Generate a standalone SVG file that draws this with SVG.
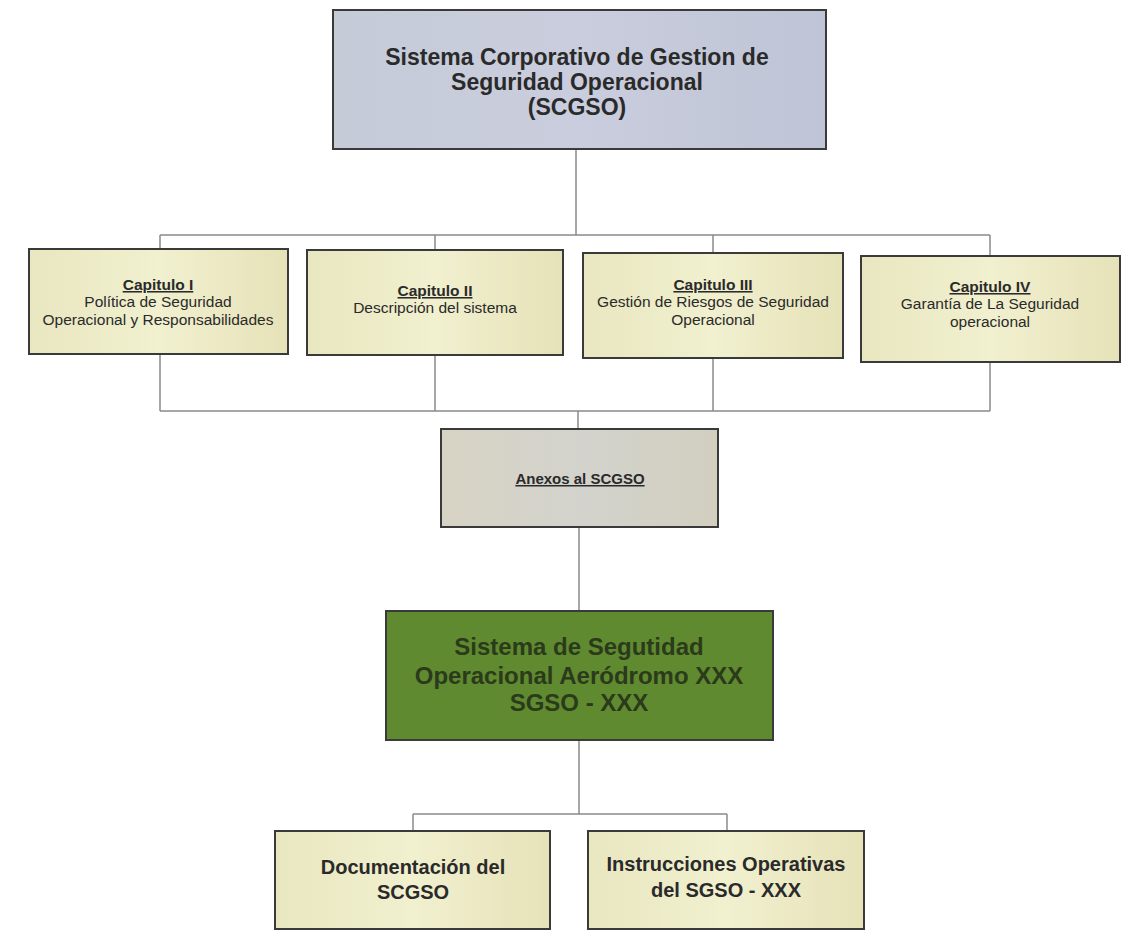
<svg xmlns="http://www.w3.org/2000/svg" width="1134" height="951" viewBox="0 0 1134 951">
<defs>
<linearGradient id="gBlue" x1="0" y1="0" x2="1" y2="0">
<stop offset="0" stop-color="#c6cbd8"/><stop offset="0.5" stop-color="#c9cddd"/><stop offset="1" stop-color="#bfc4d6"/>
</linearGradient>
<linearGradient id="gYel" x1="0" y1="0" x2="1" y2="0">
<stop offset="0" stop-color="#e9e7c0"/><stop offset="0.5" stop-color="#f1f0cf"/><stop offset="1" stop-color="#e6e2b8"/>
</linearGradient>
<linearGradient id="gAnx" x1="0" y1="0" x2="1" y2="0">
<stop offset="0" stop-color="#d7d3c4"/><stop offset="0.5" stop-color="#d3d3cd"/><stop offset="1" stop-color="#d2cfbf"/>
</linearGradient>
</defs>
<style>
.box{stroke:#3a3a3a;stroke-width:2}
.conn{fill:none;stroke:#8a8a8a;stroke-width:1.5}
text{font-family:"Liberation Sans",Arial,sans-serif;text-anchor:middle;fill:#2a2a2a}
.big{font-weight:bold;font-size:23px}
.cap{font-size:15.5px}
.capt{font-weight:bold;text-decoration:underline}
.anx{font-weight:bold;font-size:15px;text-decoration:underline}
.grn{font-weight:bold;font-size:24px;fill:#2c3a1c}
.bot{font-weight:bold;font-size:20px}
</style>
<rect width="1134" height="951" fill="#ffffff"/>
<g id="connectors">
<path class="conn" d="M576 149 V235 M160 235 H990 M160 235 V249 M435 235 V250 M713 235 V253 M990 235 V256"/>
<path class="conn" d="M160 354 V411 M435 355 V411 M713 358 V411 M990 362 V411 M160 411 H990 M578 411 V429"/>
<path class="conn" d="M579 527 V611"/>
<path class="conn" d="M579 740 V814 M413 814 H727 M413 814 V831 M727 814 V831"/>
</g>
<g id="node-scgso">
<rect class="box" x="333" y="10" width="493" height="139" fill="url(#gBlue)"/>
<text class="big" x="577" y="65">Sistema Corporativo de Gestion de</text>
<text class="big" x="577" y="90">Seguridad Operacional</text>
<text class="big" x="577" y="115">(SCGSO)</text>
</g>
<g id="node-cap1">
<rect class="box" x="29" y="249" width="259" height="105" fill="url(#gYel)"/>
<text class="cap" x="158" y="290"><tspan class="capt">Capitulo I</tspan></text>
<text class="cap" x="158" y="307">Política de Seguridad</text>
<text class="cap" x="158" y="325">Operacional y Responsabilidades</text>
</g>
<g id="node-cap2">
<rect class="box" x="307" y="250" width="256" height="105" fill="url(#gYel)"/>
<text class="cap" x="435" y="296"><tspan class="capt">Capitulo II</tspan></text>
<text class="cap" x="435" y="313">Descripción del sistema</text>
</g>
<g id="node-cap3">
<rect class="box" x="583" y="253" width="260" height="105" fill="url(#gYel)"/>
<text class="cap" x="713" y="290"><tspan class="capt">Capitulo III</tspan></text>
<text class="cap" x="713" y="307">Gestión de Riesgos de Seguridad</text>
<text class="cap" x="713" y="325">Operacional</text>
</g>
<g id="node-cap4">
<rect class="box" x="861" y="256" width="259" height="106" fill="url(#gYel)"/>
<text class="cap" x="990" y="292"><tspan class="capt">Capitulo IV</tspan></text>
<text class="cap" x="990" y="309">Garantía de La Seguridad</text>
<text class="cap" x="990" y="327">operacional</text>
</g>
<g id="node-anexos">
<rect class="box" x="441" y="429" width="277" height="98" fill="url(#gAnx)"/>
<text class="anx" x="580" y="484">Anexos al SCGSO</text>
</g>
<g id="node-sgso">
<rect class="box" x="386" y="611" width="387" height="129" fill="#5f8a2f"/>
<text class="grn" x="579" y="655">Sistema de Segutidad</text>
<text class="grn" x="579" y="684">Operacional Aeródromo XXX</text>
<text class="grn" x="579" y="711">SGSO - XXX</text>
</g>
<g id="node-doc">
<rect class="box" x="275" y="831" width="275" height="98" fill="url(#gYel)"/>
<text class="bot" x="413" y="874">Documentación del</text>
<text class="bot" x="413" y="899">SCGSO</text>
</g>
<g id="node-instr">
<rect class="box" x="588" y="831" width="276" height="98" fill="url(#gYel)"/>
<text class="bot" x="726" y="871">Instrucciones Operativas</text>
<text class="bot" x="726" y="897">del SGSO - XXX</text>
</g>
</svg>
